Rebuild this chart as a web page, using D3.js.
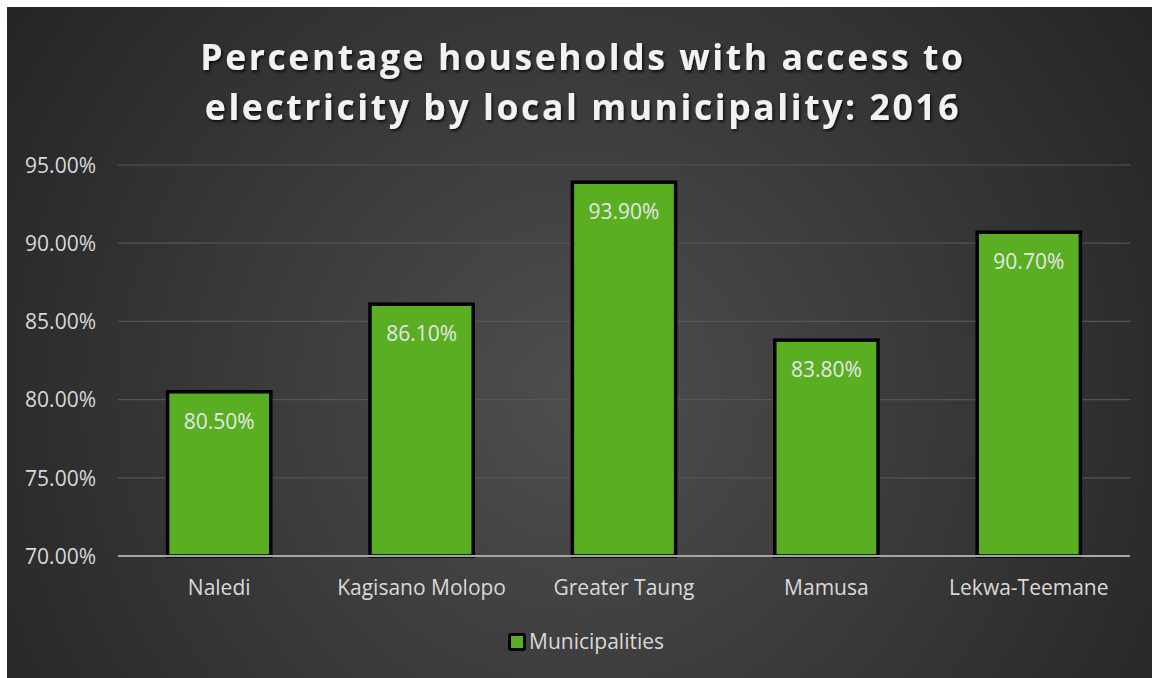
<!DOCTYPE html>
<html>
<head>
<meta charset="utf-8">
<script src="https://cdn.jsdelivr.net/npm/d3@7"></script>
<style>
  html, body { margin: 0; padding: 0; background: #ffffff; }
  svg { display: block; }
  text { font-family: "Open Sans", "Noto Sans", sans-serif; }
</style>
</head>
<body>
<svg id="chart" width="1152" height="678"></svg>
<script>
// Percentage of households with access to electricity, 2016
const municipalities = ["Naledi", "Kagisano Molopo", "Greater Taung", "Mamusa", "Lekwa-Teemane"];
const accessPct = [80.5, 86.1, 93.9, 83.8, 90.7];
const yTicks = [70, 75, 80, 85, 90, 95];
const titleLines = ["Percentage households with access to", "electricity by local municipality: 2016"];
const seriesName = "Municipalities";

const W = 1152, H = 678;
const svg = d3.select("#chart");
const defs = svg.append("defs");

// dark radial background
const grad = defs.append("radialGradient")
  .attr("id", "bg").attr("gradientUnits", "userSpaceOnUse")
  .attr("cx", 580).attr("cy", 400).attr("r", 720);
grad.append("stop").attr("offset", "0%").attr("stop-color", "#4e4e4e");
grad.append("stop").attr("offset", "100%").attr("stop-color", "#232323");

const shadow = defs.append("filter").attr("id", "tshadow")
  .attr("x", "-10%").attr("y", "-30%").attr("width", "120%").attr("height", "160%");
shadow.append("feDropShadow").attr("dx", 1.5).attr("dy", 2).attr("stdDeviation", 1.6)
  .attr("flood-color", "#000").attr("flood-opacity", 0.75);

svg.append("rect").attr("x", 7).attr("y", 7).attr("width", W - 7).attr("height", H - 7)
  .attr("fill", "url(#bg)");

// title
const title = svg.append("text")
  .attr("text-anchor", "middle")
  .attr("fill", "#f2f2f2")
  .attr("font-size", 35.5)
  .attr("font-weight", 700)
  .attr("letter-spacing", 2.6)
  .attr("filter", "url(#tshadow)");
titleLines.forEach((t, i) => {
  title.append("tspan").attr("x", 583).attr("y", 70 + i * 50).text(t);
});

const plot = { left: 118, right: 1130, top: 165, bottom: 556 };

const x = d3.scaleBand().domain(municipalities)
  .range([plot.left, plot.right]).paddingInner(0.49).paddingOuter(0.245);
const y = d3.scaleLinear().domain([70, 95]).range([plot.bottom, plot.top]);

// gridlines
svg.append("g").selectAll("line").data(yTicks.filter(v => v !== 70)).join("line")
  .attr("x1", plot.left).attr("x2", plot.right)
  .attr("y1", d => y(d)).attr("y2", d => y(d))
  .attr("stroke", "#555555").attr("stroke-width", 1.2);

// y axis labels
const yAxis = svg.append("g").attr("transform", `translate(${plot.left},0)`)
  .call(d3.axisLeft(y).tickValues(yTicks).tickSize(0).tickPadding(22)
    .tickFormat(d => d3.format(".2f")(d) + "%"));
yAxis.select(".domain").remove();
yAxis.selectAll("text").attr("font-size", 21).attr("fill", "#d9d9d9")
  .attr("font-family", "\"Open Sans\", sans-serif").attr("dy", "0.35em");

// bars
const bars = svg.append("g");
bars.selectAll("rect").data(municipalities).join("rect")
  .attr("x", d => x(d))
  .attr("y", (d, i) => y(accessPct[i]))
  .attr("width", x.bandwidth())
  .attr("height", (d, i) => y(70) - y(accessPct[i]))
  .attr("fill", "#5aae22")
  .attr("stroke", "#000000").attr("stroke-width", 3.5);

// value labels
bars.selectAll("text").data(municipalities).join("text")
  .attr("x", d => x(d) + x.bandwidth() / 2)
  .attr("y", (d, i) => y(accessPct[i]) + 37)
  .attr("text-anchor", "middle")
  .attr("font-size", 21).attr("fill", "#e6e6e6")
  .text((d, i) => d3.format(".2f")(accessPct[i]) + "%");

// x axis line and labels
svg.append("line").attr("x1", plot.left).attr("x2", plot.right)
  .attr("y1", plot.bottom).attr("y2", plot.bottom)
  .attr("stroke", "#a6a6a6").attr("stroke-width", 2);

const xAxis = svg.append("g").attr("transform", `translate(0,${plot.bottom})`)
  .call(d3.axisBottom(x).tickSize(0).tickPadding(24));
xAxis.select(".domain").remove();
xAxis.selectAll("text").attr("font-size", 21).attr("fill", "#d9d9d9")
  .attr("font-family", "\"Open Sans\", sans-serif");

// legend
const lg = svg.append("g").attr("transform", "translate(508,633)");
lg.append("rect").attr("x", 1.5).attr("y", 1.5).attr("width", 15).attr("height", 15)
  .attr("rx", 1.5)
  .attr("fill", "#5aae22").attr("stroke", "#000").attr("stroke-width", 3);
lg.append("text").attr("x", 21).attr("y", 15.5).attr("font-size", 21).attr("fill", "#d9d9d9")
  .text(seriesName);
</script>
</body>
</html>
